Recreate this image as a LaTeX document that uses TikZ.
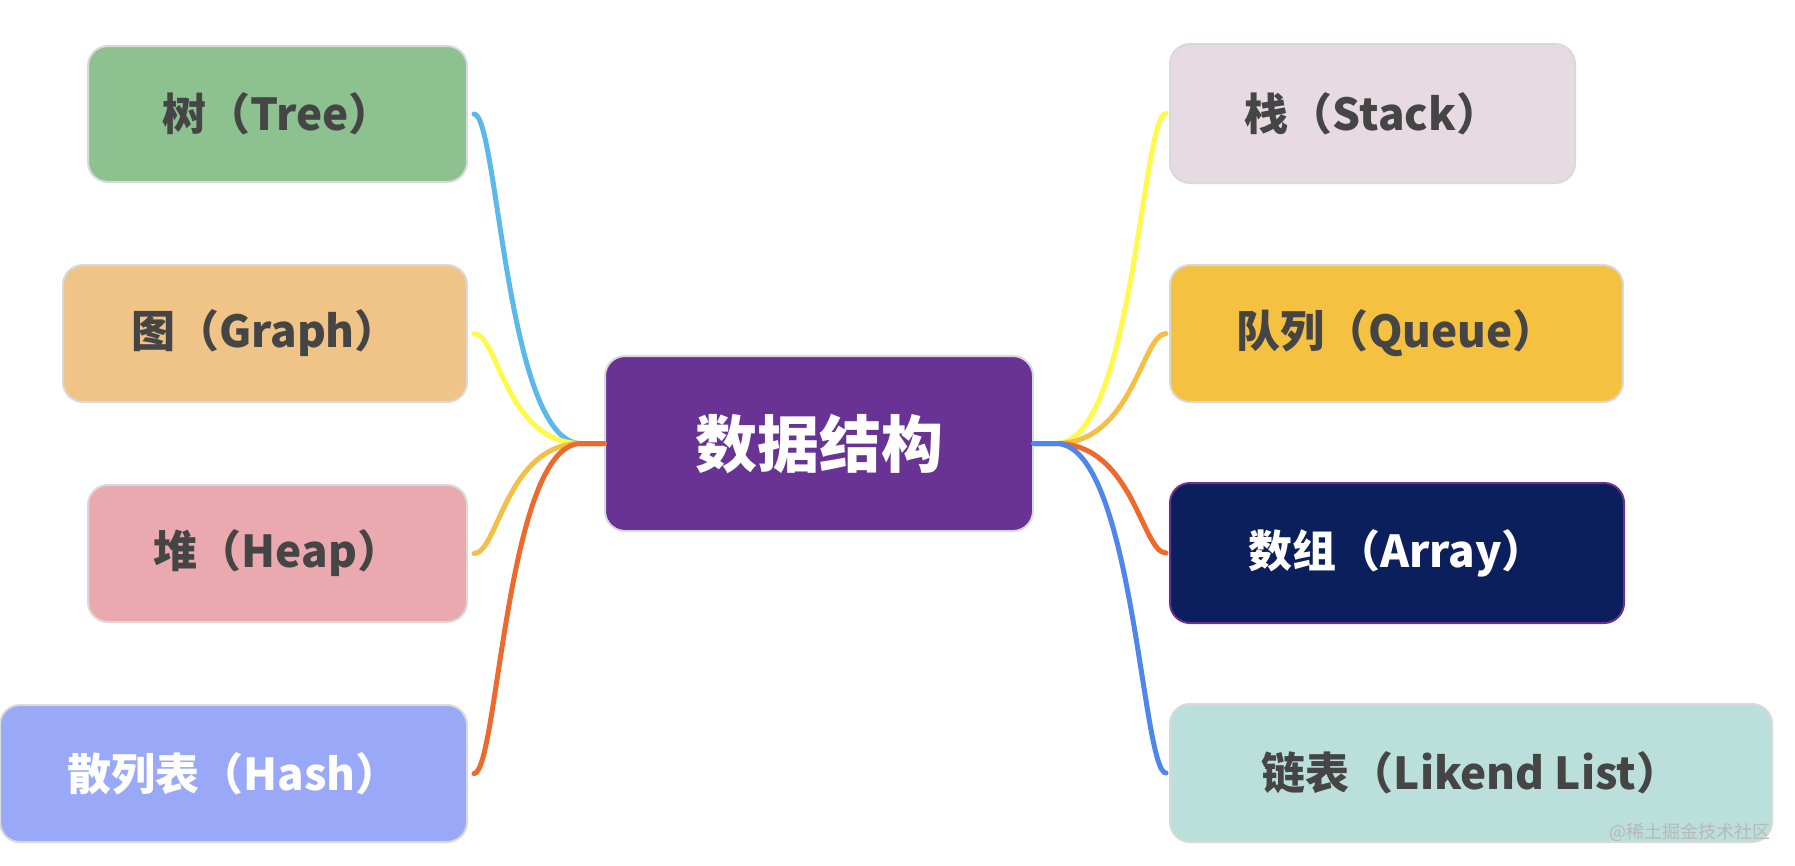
\documentclass[tikz,border=0pt]{standalone}
\usepackage{fontspec}
\setmainfont{Noto Sans CJK SC}
\definecolor{bordergray}{HTML}{D9D9D9}
\definecolor{textgray}{HTML}{454545}
\definecolor{treefill}{HTML}{8DC18F}
\definecolor{graphfill}{HTML}{F0C387}
\definecolor{heapfill}{HTML}{E9A9AE}
\definecolor{hashfill}{HTML}{99A9F7}
\definecolor{centerfill}{HTML}{683395}
\definecolor{stackfill}{HTML}{E8DAE2}
\definecolor{queuefill}{HTML}{F4C141}
\definecolor{arrayfill}{HTML}{0B1F5C}
\definecolor{arrayborder}{HTML}{6B2F95}
\definecolor{likendfill}{HTML}{BBDFDB}
\definecolor{lnblue}{HTML}{5BB8EA}
\definecolor{lnyellow}{HTML}{FFF94A}
\definecolor{lngold}{HTML}{F5BF45}
\definecolor{lnorange}{HTML}{EE6A2C}
\definecolor{lnroyal}{HTML}{4F86EC}
\definecolor{wmgray}{HTML}{B8B8B8}
\begin{document}
\begin{tikzpicture}[x=1pt,y=-1pt,
  box/.style={rounded corners=20pt, draw=bordergray, line width=2pt,
    inner sep=0pt, font=\fontsize{44}{50}\selectfont\bfseries, text=textgray},
  link/.style={line width=5pt, line cap=round}]
\useasboundingbox (0,0) rectangle (1795,865);
% central node
\node[box, fill=centerfill, text=white, minimum width=428pt, minimum height=175pt,
  font=\fontsize{62}{70}\selectfont\bfseries] (center) at (819,443.5) {数据结构};
% left nodes
\node[box, fill=treefill, minimum width=379pt, minimum height=136pt] (tree) at (277.5,114) {树（Tree）};
\node[box, fill=graphfill, minimum width=404pt, minimum height=137pt] (graph) at (265,333.5) {图（Graph）};
\node[box, fill=heapfill, minimum width=379pt, minimum height=137pt] (heap) at (277.5,553.5) {堆（Heap）};
\node[box, fill=hashfill, text=white, minimum width=467pt, minimum height=137pt] (hash) at (233.5,773.5) {散列表（Hash）};
% right nodes
\node[box, fill=stackfill, minimum width=405pt, minimum height=139pt] (stack) at (1372.5,113.5) {栈（Stack）};
\node[box, fill=queuefill, minimum width=453pt, minimum height=137pt] (queue) at (1396.5,333.5) {队列（Queue）};
\node[box, fill=arrayfill, draw=arrayborder, text=white, minimum width=454pt, minimum height=140pt] (array) at (1397,553) {数组（Array）};
\node[box, fill=likendfill, minimum width=602pt, minimum height=138pt] (likend) at (1471,773) {链表（Likend List）};
% convergence points
\coordinate (cl) at ([xshift=-23pt]center.west);
\coordinate (cr) at ([xshift=22pt]center.east);
% left connectors
\draw[link, lnblue]   ([xshift=6pt]tree.east)  .. controls +(24,0) and +(-75,0) .. (cl) -- (center.west);
\draw[link, lnyellow] ([xshift=6pt]graph.east) .. controls +(24,0) and +(-75,0) .. (cl) -- (center.west);
\draw[link, lngold]   ([xshift=6pt]heap.east)  .. controls +(24,0) and +(-75,0) .. (cl) -- (center.west);
\draw[link, lnorange] ([xshift=6pt]hash.east)  .. controls +(24,0) and +(-75,0) .. (cl) -- (center.west);
% right connectors
\draw[link, lnyellow] (center.east) -- (cr) .. controls +(77,0) and +(-24,0) .. ([xshift=-3pt]stack.west);
\draw[link, lngold]   (center.east) -- (cr) .. controls +(77,0) and +(-24,0) .. ([xshift=-3pt]queue.west);
\draw[link, lnorange] (center.east) -- (cr) .. controls +(77,0) and +(-24,0) .. ([xshift=-3pt]array.west);
\draw[link, lnroyal]  (center.east) -- (cr) .. controls +(77,0) and +(-24,0) .. ([xshift=-3pt]likend.west);
% watermark
\node[anchor=east, inner sep=0pt, text=wmgray, font=\fontsize{18}{20}\selectfont] (wm) at (1771,832) {@稀土掘金技术社区};
\end{tikzpicture}
\end{document}
